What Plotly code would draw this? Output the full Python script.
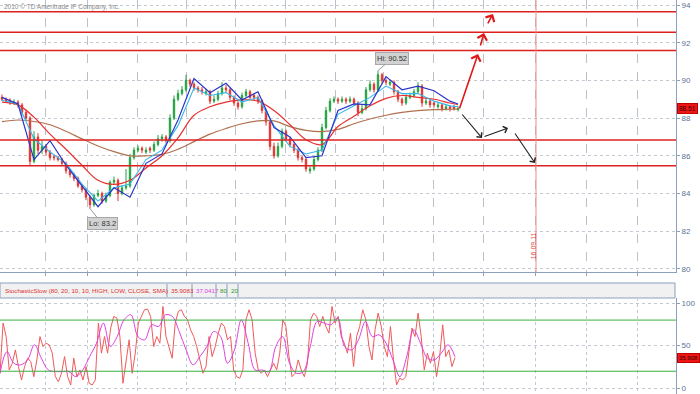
import numpy as np
import plotly.graph_objects as go

# ---------------- data ----------------
opens = [89.1, 89.0, 88.95, 88.8, 88.85, 88.7, 88.3, 88.0, 85.7, 87.0,
         86.3, 86.5, 86.2, 85.95, 85.9, 85.8, 85.6, 85.2, 85.0, 84.8,
         84.4, 84.2, 83.8, 83.4, 83.9, 84.0, 83.6, 83.9, 84.6, 84.7,
         84.0, 84.3, 84.4, 85.9, 86.3, 86.4, 86.2, 86.4, 86.3, 86.6,
         86.9, 87.0, 86.8, 88.0, 89.0, 89.3, 89.5, 90.0, 89.8, 89.6,
         89.5, 89.3, 89.4, 88.9, 89.0, 89.3, 89.6, 89.5, 89.1, 88.8,
         88.6, 89.2, 89.4, 89.2, 89.1, 88.9, 88.4, 87.8, 86.5, 86.0,
         86.5, 87.3, 86.9, 86.6, 86.3, 85.9, 85.8, 85.2, 85.3, 85.8,
         86.3, 87.5, 88.4, 88.9, 89.0, 88.9, 89.0, 88.9, 89.0, 88.8,
         88.3, 88.5, 89.5, 89.8, 89.5, 90.3, 90.0, 89.8, 89.9, 89.4,
         89.0, 88.8, 89.1, 89.2, 89.4, 89.7, 88.8, 88.9, 88.8, 88.6,
         88.7, 88.5, 88.6, 88.6, 88.45]
closes = [89.0, 88.9, 88.8, 88.85, 88.7, 88.3, 88.0, 85.7, 87.0, 86.3,
          86.5, 86.2, 85.9, 85.9, 85.8, 85.6, 85.2, 85.0, 84.8, 84.4,
          84.2, 83.8, 83.4, 83.9, 84.0, 83.6, 83.9, 84.6, 84.7, 84.0,
          84.3, 84.4, 85.9, 86.3, 86.4, 86.3, 86.3, 86.3, 86.6, 86.9,
          87.0, 86.8, 88.0, 89.0, 89.3, 89.5, 90.0, 89.8, 89.6, 89.5,
          89.4, 89.4, 88.9, 89.0, 89.3, 89.6, 89.5, 89.1, 88.8, 88.6,
          89.2, 89.4, 89.1, 89.1, 88.9, 88.4, 87.8, 86.5, 86.0, 86.5,
          87.3, 86.9, 86.6, 86.3, 85.9, 85.8, 85.3, 85.3, 85.8, 86.3,
          87.5, 88.4, 88.9, 89.0, 88.9, 89.0, 88.9, 89.0, 88.8, 88.3,
          88.5, 89.5, 89.8, 89.5, 90.3, 90.0, 89.9, 89.9, 89.4, 89.0,
          88.8, 89.1, 89.2, 89.4, 89.7, 88.8, 88.9, 88.7, 88.7, 88.7,
          88.5, 88.6, 88.5, 88.5, 88.51]
highs = [89.25, 89.1, 89.05, 89.0, 88.95, 88.8, 88.45, 88.1, 87.3, 87.2,
         86.8, 86.6, 86.3, 86.05, 86.0, 85.9, 85.7, 85.3, 85.1, 84.9,
         84.5, 84.3, 83.9, 84.0, 84.2, 84.1, 84.05, 84.7, 84.9, 84.8,
         84.45, 85.3, 86.1, 86.45, 86.55, 86.5, 86.45, 86.5, 86.75, 87.1,
         87.15, 87.1, 88.2, 89.2, 89.5, 89.7, 90.3, 90.1, 89.9, 89.7,
         89.65, 89.55, 89.5, 89.2, 89.45, 89.9, 89.75, 89.6, 89.2, 88.9,
         89.35, 89.55, 89.5, 89.3, 89.2, 89.0, 88.5, 87.9, 86.7, 86.7,
         87.45, 87.4, 87.0, 86.7, 86.4, 86.0, 85.9, 85.45, 85.95, 86.45,
         87.7, 88.6, 89.05, 89.15, 89.1, 89.15, 89.1, 89.15, 89.1, 88.9,
         88.7, 89.65, 90.0, 89.9, 90.52, 90.4, 90.1, 90.05, 90.0, 89.5,
         89.1, 89.25, 89.35, 89.55, 89.9, 89.8, 89.05, 89.0, 88.9, 88.85,
         88.8, 88.75, 88.7, 88.7, 88.65]
lows = [88.9, 88.8, 88.7, 88.7, 88.55, 88.15, 87.9, 85.45, 85.6, 86.1,
        86.1, 86.0, 85.75, 85.75, 85.7, 85.45, 85.05, 84.85, 84.65, 84.3,
        84.05, 83.65, 83.2, 83.3, 83.8, 83.45, 83.5, 83.8, 84.5, 83.6,
        83.9, 84.2, 84.3, 85.8, 86.2, 86.15, 86.1, 86.15, 86.2, 86.5,
        86.75, 86.65, 86.7, 87.9, 88.9, 89.2, 89.4, 89.65, 89.45, 89.35,
        89.25, 89.2, 88.75, 88.8, 88.9, 89.2, 89.35, 88.95, 88.65, 88.45,
        88.5, 89.1, 88.95, 88.95, 88.75, 88.25, 87.6, 86.3, 85.85, 85.9,
        86.4, 86.75, 86.45, 86.15, 85.75, 85.65, 85.15, 85.05, 85.2, 85.7,
        86.2, 87.4, 88.3, 88.8, 88.75, 88.8, 88.75, 88.8, 88.65, 88.1,
        88.2, 88.4, 89.4, 89.35, 89.4, 89.85, 89.75, 89.7, 89.25, 88.85,
        88.65, 88.7, 89.0, 89.1, 89.3, 88.6, 88.7, 88.55, 88.55, 88.5,
        88.35, 88.4, 88.35, 88.4, 88.35]

ma_bars = list(range(0, 113, 4)) + [114]
ma_long = [87.81, 87.9, 87.82, 87.65, 87.3, 86.9, 86.52, 86.22, 86.0, 86.0,
           86.08, 86.35, 86.75, 87.15, 87.45, 87.7, 87.85, 87.85, 87.55, 87.35,
           87.28, 87.4, 87.7, 87.95, 88.15, 88.3, 88.4, 88.45, 88.47, 88.48]
ma_mid = [88.85, 88.7, 88.05, 87.15, 86.35, 85.5, 84.7, 84.48, 84.7, 85.35,
          86.0, 86.95, 88.15, 88.6, 88.85, 88.97, 88.9, 88.4, 87.65, 86.85,
          86.6, 87.55, 88.1, 88.65, 89.05, 89.2, 89.1, 89.0, 88.8, 88.72]
ma_fast = [88.95, 88.75, 86.9, 86.2, 85.6, 84.5, 83.6, 84.3, 84.5, 85.8,
           86.3, 87.6, 89.6, 89.2, 89.35, 88.85, 89.1, 87.6, 86.5, 86.1,
           86.3, 88.2, 88.65, 89.1, 89.7, 89.3, 89.3, 88.9, 88.65, 88.6]
trail = [89.1, 88.75, 85.8, 86.8, 85.5, 84.4, 83.3, 84.3, 83.8, 85.6,
         86.1, 87.9, 90.1, 89.35, 89.85, 88.96, 89.4, 87.5, 87.0, 85.9,
         86.0, 88.4, 88.75, 88.7, 90.2, 89.5, 89.7, 89.45, 88.9, 88.75]

stoch_k = [17.6, 76.5, 60.7, 21.5, 29.4, 45, 25.4, 9.8, 25.4, 35.3, 31.3, 13.6, 33.3,
           60.7, 48.9, 52.9, 51, 41.2, 13.6, 7.8, 17.6, 37.2, 13.6, 3.9, 35.3, 13.6,
           21.5, 9.8, 25.4, 5.9, 3.9, 9.8, 76.5, 41.2, 60.7, 41.2, 70.6, 84.3, 82.4,
           60.7, 5.9, 33.3, 56.9, 17.6, 41.2, 76.5, 84.3, 92.1, 92.9, 84.3, 48.9, 60.7,
           52.9, 96, 60.7, 48.9, 35.3, 76.5, 90.2, 92.1, 84.3, 80.4, 68.6, 60.7, 48.9,
           33.3, 17.6, 25.4, 60.7, 37.2, 48.9, 64.7, 76.5, 72.5, 56.9, 60.7, 21.5,
           13.6, 11.8, 21.5, 80.4, 92.1, 80.4, 41.2, 21.5, 17.6, 21.5, 13.6, 21.5,
           29.4, 21.5, 41.2, 80.4, 72.5, 37.2, 13.6, 17.6, 33.3, 21.5, 13.6, 29.4,
           80.4, 88.2, 84.3, 72.5, 84.3, 72.5, 64.7, 96, 76.5, 84.3, 60.7, 52.9, 41.2,
           64.7, 25.4, 60.7, 72.5, 92.1, 80.4, 48.9, 33.3, 68.6, 88.2, 72.5, 48.9,
           37.2, 72.5, 33.3, 3.9, 11.8, 9.8, 13.6, 41.2, 70.6, 60.7, 88.2, 60.7, 21.5,
           41.2, 29.4, 43.1, 13.6, 37.2, 74.5, 37.2, 45, 25.4, 35.9]
stoch_d = [17.6, 43, 29.4, 27.5, 33.3, 51, 35.3, 21.5, 19.6, 19.6, 19.6, 13.6, 21.5,
           37.2, 52.9, 76.5, 48.9, 60.7, 80.4, 86.2, 60.7, 56.9, 74.5, 72.5, 86.2,
           84.3, 66.6, 45, 27.5, 37.2, 48.9, 66.6, 60.7, 29.4, 45, 80.4, 52.9, 21.5,
           21.5, 19.6, 48.9, 60.7, 29.4, 17.6, 19.6, 48.9, 78.4, 76.5, 74.5, 82.4,
           48.9, 45, 56.9, 78.4, 60.7, 62.7, 52.9, 33.3, 13.6, 37.2, 68.6, 52.9,
           35.3, 33.3, 41.2, 50.9, 37.0]

price_ticks = [80, 82, 84, 86, 88, 90, 92, 94]
stoch_ticks = [0, 50, 100]
stoch_levels = [80, 20]
sr_levels = [93.64, 92.55, 91.58, 86.84, 85.47]
grid_bars = [10.75, 21.25, 33.75, 46, 58.25, 70.75, 83.25, 95.25, 107.75,
             120.25, 133.25, 146, 158.75]
date_bar = 133.5
date_label = "16.09.11"
last_price = 88.51
last_k_label = "35.908"
last_k = 35.908
legend_parts = ["StochasticSlow (80, 20, 10, 10, HIGH, LOW, CLOSE, SMA)",
                "35.9083", "37.0417", "80", "20"]
copyright_text = "2010 © TD Ameritrade IP Company, Inc."
# scenario arrows (start bar, start price, end bar, end price)
red_arrows = [(114.25, 88.43, 119.0, 91.40),
              (119.5, 91.77, 120.5, 92.51),
              (121.25, 92.94, 122.75, 93.52)]
black_arrows = [(114.75, 88.27, 120.0, 86.94),
                (120.25, 87.00, 126.5, 87.47),
                (128.0, 87.26, 133.25, 85.62)]

# ---------------- figure ----------------
W, H = 700, 394
bars = list(range(len(closes)))
FONT = "Liberation Sans, Arial, sans-serif"

fig = go.Figure()
fig.add_trace(go.Candlestick(
    x=bars, open=opens, high=highs, low=lows, close=closes,
    increasing=dict(line=dict(color="#23a040", width=1), fillcolor="#23a040"),
    decreasing=dict(line=dict(color="#e2322e", width=1), fillcolor="#e2322e"),
    whiskerwidth=0, showlegend=False, xaxis="x", yaxis="y"))
fig.add_trace(go.Scatter(x=ma_bars, y=ma_long, mode="lines", line=dict(color="#b0704e", width=1.2, shape="spline"),
                         showlegend=False, xaxis="x", yaxis="y"))
fig.add_trace(go.Scatter(x=ma_bars, y=ma_mid, mode="lines", line=dict(color="#e83030", width=1.2, shape="spline"),
                         showlegend=False, xaxis="x", yaxis="y"))
fig.add_trace(go.Scatter(x=ma_bars, y=ma_fast, mode="lines", line=dict(color="#35b8ea", width=1.1),
                         showlegend=False, xaxis="x", yaxis="y"))
fig.add_trace(go.Scatter(x=ma_bars, y=trail, mode="lines", line=dict(color="#2a35c8", width=1.2),
                         showlegend=False, xaxis="x", yaxis="y"))

k_x = np.linspace(-0.5, 113.25, len(stoch_k))
d_x = np.linspace(-0.5, 113.25, len(stoch_d))
fig.add_trace(go.Scatter(x=k_x, y=stoch_k, mode="lines", line=dict(color="#f05a5a", width=1),
                         showlegend=False, xaxis="x2", yaxis="y2"))
fig.add_trace(go.Scatter(x=d_x, y=stoch_d, mode="lines", line=dict(color="#e040e0", width=1, shape="spline"),
                         showlegend=False, xaxis="x2", yaxis="y2"))

shapes = []
for lv in sr_levels:
    shapes.append(dict(type="line", xref="x domain", yref="y", x0=0, x1=1, y0=lv, y1=lv,
                       line=dict(color="#dd2020", width=1.5)))
for lv in stoch_levels:
    shapes.append(dict(type="line", xref="x2 domain", yref="y2", x0=0, x1=1, y0=lv, y1=lv,
                       line=dict(color="#3cb043", width=1)))
shapes.append(dict(type="line", xref="x", yref="y domain", x0=date_bar, x1=date_bar, y0=0, y1=1,
                   line=dict(color="#f08a8a", width=1)))


def py(p):
    return (H - p) / H


def px(p):
    return p / 676.0


# legend bar of the stochastic panel
shapes.append(dict(type="rect", xref="paper", yref="paper", x0=0, x1=px(675), y0=py(298), y1=py(283),
                   fillcolor="#f1f1f1", line=dict(color="#8aa0bc", width=1), layer="below"))
dividers = [167, 192, 216, 227, 238]
for d in dividers:
    shapes.append(dict(type="line", xref="paper", yref="paper", x0=px(d), x1=px(d), y0=py(297), y1=py(284),
                       line=dict(color="#8aa0bc", width=1)))

annotations = []
part_x = [3, 169, 194, 218, 229]
part_col = ["#e03030", "#e03030", "#e040e0", "#2a9a2a", "#2a9a2a"]
for t, x0, c in zip(legend_parts, part_x, part_col):
    annotations.append(dict(text=t, xref="paper", yref="paper", x=px(x0), y=py(290.5), xanchor="left",
                            yanchor="middle", showarrow=False, font=dict(size=6.2, color=c, family=FONT)))

annotations.append(dict(text=copyright_text, xref="paper", yref="paper", x=px(2), y=py(7),
                        xanchor="left", yanchor="middle", showarrow=False,
                        font=dict(size=6.5, color="#8a8a8a", family=FONT)))

hi_i = int(np.argmax(highs))
lo_i = int(np.argmin(lows))
annotations.append(dict(text=f"Hi: {highs[hi_i]:.2f}", x=hi_i, y=highs[hi_i], xref="x", yref="y",
                        ax=14, ay=-12, showarrow=True, arrowhead=0, arrowwidth=1, arrowcolor="#9a9a9a",
                        bgcolor="#d2d2d2", bordercolor="#a8a8a8", borderpad=1,
                        font=dict(size=7.5, color="#333333", family=FONT)))
annotations.append(dict(text=f"Lo: {lows[lo_i]:.1f}", x=lo_i, y=lows[lo_i], xref="x", yref="y",
                        ax=12, ay=15, showarrow=True, arrowhead=0, arrowwidth=1, arrowcolor="#9a9a9a",
                        bgcolor="#d2d2d2", bordercolor="#a8a8a8", borderpad=1,
                        font=dict(size=7.5, color="#333333", family=FONT)))

for (x0, y0, x1, y1) in red_arrows:
    annotations.append(dict(x=x1, y=y1, ax=x0, ay=y0, xref="x", yref="y", axref="x", ayref="y",
                            text="", showarrow=True, arrowhead=4, arrowsize=1.2, arrowwidth=1.6,
                            arrowcolor="#e01818"))
for (x0, y0, x1, y1) in black_arrows:
    annotations.append(dict(x=x1, y=y1, ax=x0, ay=y0, xref="x", yref="y", axref="x", ayref="y",
                            text="", showarrow=True, arrowhead=4, arrowsize=1.2, arrowwidth=1.1,
                            arrowcolor="#202020"))

annotations.append(dict(text=date_label, x=date_bar, y=81.2, xref="x", yref="y", textangle=-90,
                        showarrow=False, xanchor="center", xshift=-3,
                        font=dict(size=7, color="#e04848", family=FONT)))

annotations.append(dict(text=f"{last_price:.2f}", xref="paper", yref="y", x=1, y=last_price,
                        xanchor="left", yanchor="middle", xshift=1, showarrow=False,
                        bgcolor="#ee1515", bordercolor="#c00000", borderpad=1, borderwidth=1,
                        font=dict(size=6.5, color="#3a0000", family=FONT)))
annotations.append(dict(text=last_k_label, xref="paper", yref="y2", x=1, y=last_k,
                        xanchor="left", yanchor="middle", xshift=1, showarrow=False,
                        bgcolor="#ee1515", bordercolor="#c00000", borderpad=1, borderwidth=1,
                        font=dict(size=6, color="#3a0000", family=FONT)))

axis_col = "#8aa0bc"
tick_font = dict(size=8, color="#5a7396", family=FONT)
fig.update_layout(
    width=W, height=H, margin=dict(l=0, r=24, t=0, b=0, autoexpand=False),
    paper_bgcolor="white", plot_bgcolor="white",
    showlegend=False, boxgap=0.5,
    xaxis=dict(domain=[0, 1], range=[-0.5, 168.5], anchor="y", tickmode="array", tickvals=grid_bars,
               showticklabels=False, showgrid=True, gridcolor="#bcc1c9", griddash="dash", gridwidth=1,
               ticks="outside", ticklen=3, tickcolor=axis_col, showline=True, linecolor=axis_col,
               zeroline=False, rangeslider=dict(visible=False)),
    yaxis=dict(domain=[py(272), 1], range=[79.836, 94.265], side="right", tickmode="array",
               tickvals=price_ticks, showgrid=True, gridcolor="#c2c9d3", griddash="dot",
               ticks="outside", ticklen=3, tickcolor=axis_col, showline=True, linecolor=axis_col,
               tickfont=tick_font, zeroline=False),
    xaxis2=dict(domain=[0, 1], range=[-0.5, 168.5], anchor="y2", matches="x", tickmode="array",
                tickvals=grid_bars, showticklabels=False, showgrid=True, gridcolor="#c2c9d3",
                griddash="dot", ticks="", showline=False, zeroline=False),
    yaxis2=dict(domain=[0, py(298)], range=[-6.7, 105.9], side="right", tickmode="array",
                tickvals=stoch_ticks, showgrid=True, gridcolor="#c2c9d3", griddash="dot",
                ticks="outside", ticklen=3, tickcolor=axis_col, showline=True, linecolor=axis_col,
                tickfont=tick_font, zeroline=False),
    shapes=shapes, annotations=annotations,
)

fig.write_html("out.html", config={"displayModeBar": False},
               post_script="document.body.style.margin='0px';document.body.style.padding='0px';")
